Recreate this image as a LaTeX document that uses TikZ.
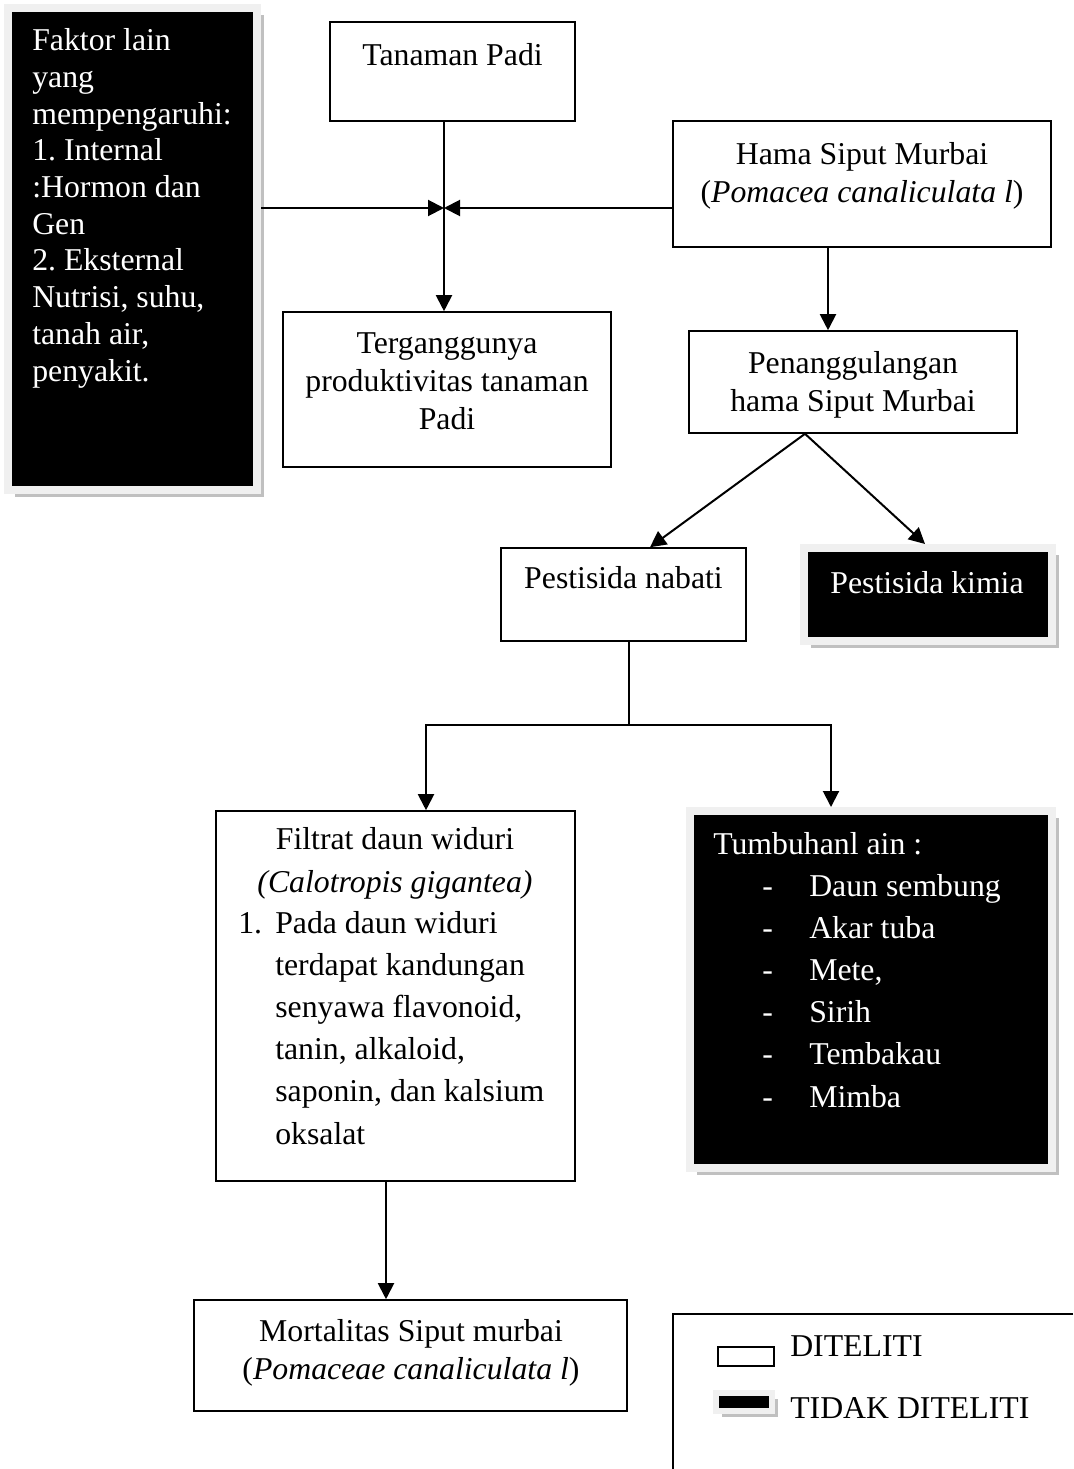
\documentclass[tikz,border=0pt]{standalone}
\usepackage{fontspec}
\setmainfont{Liberation Serif}
\usetikzlibrary{arrows.meta,fit,shadows}
\frenchspacing

\definecolor{framegray}{RGB}{240,240,240}
\definecolor{shadowgray}{RGB}{192,192,192}

\tikzset{
  whitebox/.style={draw, line width=0.4mm, inner sep=0pt},
  blackbox/.style={fill=black, draw=framegray, line width=2mm, inner sep=0pt,
    drop shadow={shadow xshift=#1, shadow yshift=-#1, fill=shadowgray, opacity=1}},
  blackbox/.default=1.75mm,
  txt/.style={inner sep=0pt, font=\fontsize{22.6}{27}\selectfont},
  link/.style={line width=0.5mm},
  arr/.style={link, -{Triangle[length=4mm,width=4mm]}}
}

\begin{document}
\begin{tikzpicture}[x=0.25mm,y=-0.25mm]
		\useasboundingbox (0,0) rectangle (1073,1469);
		
		% kotak
		\node[blackbox, fit={(8,8) (257,490)}] (faktor) {};
		\node[whitebox, fit={(330,22) (575,121)}] (tanaman) {};
		\node[whitebox, fit={(673,121) (1051,247)}] (hama) {};
		\node[whitebox, fit={(283,312) (611,467)}] (terganggu) {};
		\node[whitebox, fit={(689,331) (1017,433)}] (tanggul) {};
		\node[whitebox, fit={(501,548) (746,641)}] (nabati) {};
		\node[blackbox, fit={(804,548) (1052,641)}] (kimia) {};
		\node[whitebox, fit={(216,811) (575,1181)}] (filtrat) {};
		\node[blackbox, fit={(690,811) (1052,1168)}] (tumbuhan) {};
		\node[whitebox, fit={(194,1300) (627,1411)}] (mortal) {};
		
		% titik bantu
		\coordinate (jn) at (444,208);
		\coordinate (split) at (629,725);
		\coordinate (kiri) at (426,725);
		\coordinate (kanan) at (831,725);
		
		% teks (anchor base = baris terakhir)
		\node[txt, text=white, align=left, anchor=base west,
		  font=\fontsize{22.6}{26.1}\selectfont] (faktor-t) at (32,381)
		  {Faktor lain\\yang\\mempengaruhi:\\1. Internal\\:Hormon dan\\Gen\\2. Eksternal\\Nutrisi, suhu,\\tanah air,\\penyakit.};
		\node[txt, anchor=base] (tanaman-t) at (452.5,65) {Tanaman Padi};
		\node[txt, align=center, anchor=base] (hama-t) at (862,202)
		  {Hama Siput Murbai\\(\textit{Pomacea canaliculata l})};
		\node[txt, align=center, anchor=base] (terganggu-t) at (447,429)
		  {Terganggunya\\produktivitas tanaman\\Padi};
		\node[txt, align=center, anchor=base] (tanggul-t) at (853,411)
		  {Penanggulangan\\hama Siput Murbai};
		\node[txt, anchor=base] (nabati-t) at (623.5,588) {Pestisida nabati};
		\node[txt, text=white, anchor=base] (kimia-t) at (927,593) {Pestisida kimia};
		\node[txt, align=center, anchor=base,
		  font=\fontsize{22.6}{29.9}\selectfont] (filtrat-t) at (395,892)
		  {Filtrat daun widuri\\\textit{(Calotropis gigantea)}};
		\node[txt, align=left, anchor=base west,
		  font=\fontsize{22.6}{29.9}\selectfont] (filtrat-l) at (238,1144)
		  {\makebox[9.25mm][l]{1.}Pada daun widuri\\
		   \hspace*{9.25mm}terdapat kandungan\\
		   \hspace*{9.25mm}senyawa flavonoid,\\
		   \hspace*{9.25mm}tanin, alkaloid,\\
		   \hspace*{9.25mm}saponin, dan kalsium\\
		   \hspace*{9.25mm}oksalat};
		\node[txt, text=white, align=left, anchor=base west,
		  font=\fontsize{22.6}{29.9}\selectfont] (tumbuhan-t) at (713,1107)
		  {Tumbuhanl ain :\\
		   \hspace*{12.25mm}\makebox[11.75mm][l]{-}Daun sembung\\
		   \hspace*{12.25mm}\makebox[11.75mm][l]{-}Akar tuba\\
		   \hspace*{12.25mm}\makebox[11.75mm][l]{-}Mete,\\
		   \hspace*{12.25mm}\makebox[11.75mm][l]{-}Sirih\\
		   \hspace*{12.25mm}\makebox[11.75mm][l]{-}Tembakau\\
		   \hspace*{12.25mm}\makebox[11.75mm][l]{-}Mimba};
		\node[txt, align=center, anchor=base] (mortal-t) at (411,1379)
		  {Mortalitas Siput murbai\\(\textit{Pomaceae canaliculata l})};
		
		% panah
		\draw[arr] (tanaman.south -| jn) -- (terganggu.north -| jn);
		\draw[arr] (faktor.east |- jn) -- (jn);
		\draw[arr] (hama.west |- jn) -- (jn);
		\draw[arr] (hama.south -| 828,0) -- (tanggul.north -| 828,0);
		\draw[arr] (tanggul.south -| 805,0) -- (nabati.north -| 650,0);
		\draw[arr] (tanggul.south -| 805,0) -- (kimia.north -| 925,0);
		\draw[link] (nabati.south -| split) -- (split);
		\draw[arr] (split) -- (kiri) -- (filtrat.north -| kiri);
		\draw[arr] (split) -- (kanan) -- (tumbuhan.north -| kanan);
		\draw[arr] (filtrat.south -| 386,0) -- (mortal.north -| 386,0);
		
		% keterangan
		\draw[link] (1073,1314) -| (673,1469);
		\node[whitebox, line width=0.35mm, fit={(718,1347) (774,1366)}] (leg-putih) {};
		\node[blackbox=1.5mm, line width=1.5mm, fit={(716,1393) (772,1411)}] (leg-hitam) {};
		\node[txt, anchor=base west] (leg-putih-t) at (790,1356) {DITELITI};
		\node[txt, anchor=base west] (leg-hitam-t) at (790,1418) {TIDAK DITELITI};
	\end{tikzpicture}
\end{document}
